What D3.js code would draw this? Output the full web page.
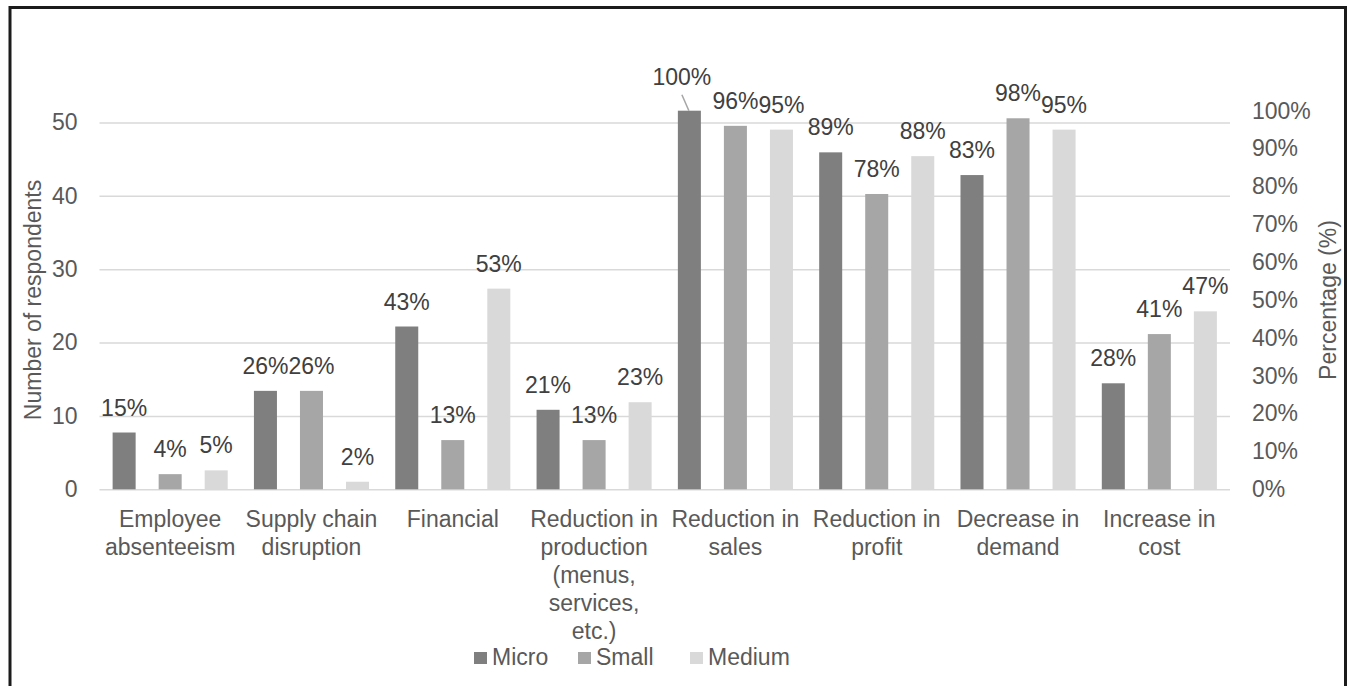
<!DOCTYPE html>
<html>
<head>
<meta charset="utf-8">
<script src="https://cdn.jsdelivr.net/npm/d3@7"></script>
<style>
  body { margin: 0; background: #fff; }
  text { font-family: Arial, "Liberation Sans", sans-serif; }
</style>
</head>
<body>
<svg id="chart" width="1347" height="686"></svg>
<script>
// Impacts reported by business size (share of respondents, %)
const categories = [
  "Employee absenteeism",
  "Supply chain disruption",
  "Financial",
  "Reduction in production (menus, services, etc.)",
  "Reduction in sales",
  "Reduction in profit",
  "Decrease in demand",
  "Increase in cost"
];
const seriesNames = ["Micro", "Small", "Medium"];
const micro  = [15, 26, 43, 21, 100, 89, 83, 28];
const small  = [4, 26, 13, 13, 96, 78, 98, 41];
const medium = [5, 2, 53, 23, 95, 88, 95, 47];

const countTicks = [0, 10, 20, 30, 40, 50];
const pctTicks = [0, 10, 20, 30, 40, 50, 60, 70, 80, 90, 100];
const countAxisMax = 51.6;   // respondents equivalent to 100%

const colors = { Micro: "#7f7f7f", Small: "#a6a6a6", Medium: "#d9d9d9" };
const seriesValues = { Micro: micro, Small: small, Medium: medium };

const svg = d3.select("#chart");
const W = 1347, H = 686;
const plot = { left: 99.5, right: 1230, top: 110.7, bottom: 489.3 };
const FONT = 23;
const textGray = "#595959";

// outer frame
svg.append("rect")
  .attr("x", 10).attr("y", 7.5)
  .attr("width", 1335.5).attr("height", 720)
  .attr("fill", "none").attr("stroke", "#1b1b1b").attr("stroke-width", 3);

const x0 = d3.scaleBand().domain(categories).range([plot.left, plot.right]).padding(0);
const x1 = d3.scaleBand().domain(seriesNames).range([0, x0.bandwidth()])
  .paddingInner(0.5).paddingOuter(0.285);
const yCount = d3.scaleLinear().domain([0, countAxisMax]).range([plot.bottom, plot.top]);
const yPct = d3.scaleLinear().domain([0, 100]).range([plot.bottom, plot.top]);

// gridlines from the respondents axis
const grid = svg.append("g").attr("transform", `translate(${plot.left},0)`)
  .call(d3.axisLeft(yCount).tickValues(countTicks).tickSize(-(plot.right - plot.left)).tickFormat(""));
grid.select(".domain").remove();
grid.selectAll("line").attr("stroke", "#d9d9d9").attr("stroke-width", 1.5);

// left axis labels
const axL = svg.append("g").attr("transform", `translate(${plot.left},0)`)
  .call(d3.axisLeft(yCount).tickValues(countTicks).tickSize(0).tickPadding(22));
axL.select(".domain").remove();
axL.selectAll("text").attr("font-size", FONT).attr("fill", textGray)
  .attr("font-family", "Arial, 'Liberation Sans', sans-serif");

// right axis labels
const axR = svg.append("g").attr("transform", `translate(${plot.right},0)`)
  .call(d3.axisRight(yPct).tickValues(pctTicks).tickSize(0).tickPadding(22).tickFormat(d => d + "%"));
axR.select(".domain").remove();
axR.selectAll("text").attr("font-size", FONT).attr("fill", textGray)
  .attr("font-family", "Arial, 'Liberation Sans', sans-serif");

// axis titles
svg.append("text")
  .attr("transform", `translate(41,${(plot.top + plot.bottom) / 2 + 0}) rotate(-90)`)
  .attr("text-anchor", "middle").attr("font-size", FONT).attr("fill", textGray)
  .text("Number of respondents");
svg.append("text")
  .attr("transform", `translate(1336,${(plot.top + plot.bottom) / 2}) rotate(-90)`)
  .attr("text-anchor", "middle").attr("font-size", FONT).attr("fill", textGray)
  .text("Percentage (%)");

// bars
const groups = svg.append("g").selectAll("g")
  .data(categories).join("g")
  .attr("transform", d => `translate(${x0(d)},0)`);

groups.selectAll("rect")
  .data((c, i) => seriesNames.map(s => ({ s, c, v: seriesValues[s][i] })))
  .join("rect")
  .attr("x", d => x1(d.s))
  .attr("width", x1.bandwidth())
  .attr("y", d => yPct(d.v))
  .attr("height", d => yPct(0) - yPct(d.v))
  .attr("fill", d => colors[d.s]);

// value labels; the one on the tallest bar is lifted with a leader line
const lifted = { s: "Micro", c: "Reduction in sales", dx: -7.5, dy: -8.5 };
groups.selectAll("text.val")
  .data((c, i) => seriesNames.map(s => ({ s, c, v: seriesValues[s][i] })))
  .join("text")
  .attr("class", "val")
  .attr("text-anchor", "middle")
  .attr("font-size", FONT)
  .attr("fill", "#404040")
  .attr("x", d => x1(d.s) + x1.bandwidth() / 2 + (d.s === lifted.s && d.c === lifted.c ? lifted.dx : 0))
  .attr("y", d => yPct(d.v) - 17 + (d.s === lifted.s && d.c === lifted.c ? lifted.dy : 0))
  .text(d => d.v + "%");

{
  const i = categories.indexOf(lifted.c);
  const v = seriesValues[lifted.s][i];
  const cx = x0(lifted.c) + x1(lifted.s) + x1.bandwidth() / 2;
  svg.append("line")
    .attr("x1", cx + lifted.dx).attr("y1", yPct(v) - 16)
    .attr("x2", cx - 0.5).attr("y2", yPct(v))
    .attr("stroke", "#a6a6a6").attr("stroke-width", 1.5);
}

// category labels, wrapped to the band width
const catG = svg.append("g");
categories.forEach(c => {
  const t = catG.append("text")
    .attr("text-anchor", "middle")
    .attr("font-size", FONT)
    .attr("fill", textGray)
    .attr("x", x0(c) + x0.bandwidth() / 2)
    .attr("y", plot.bottom + 38);
  const words = c.split(" ");
  let line = [];
  let lineNo = 0;
  let tspan = t.append("tspan").attr("x", x0(c) + x0.bandwidth() / 2).attr("dy", 0);
  words.forEach(w => {
    line.push(w);
    tspan.text(line.join(" "));
    if (tspan.node().getComputedTextLength() > 136 && line.length > 1) {
      line.pop();
      tspan.text(line.join(" "));
      line = [w];
      lineNo++;
      tspan = t.append("tspan").attr("x", x0(c) + x0.bandwidth() / 2).attr("dy", 28).text(w);
    }
  });
});

// legend
const legendItems = [
  { s: "Micro", x: 474 },
  { s: "Small", x: 578 },
  { s: "Medium", x: 690 }
];
const lg = svg.append("g");
legendItems.forEach(it => {
  lg.append("rect").attr("x", it.x).attr("y", 652).attr("width", 13).attr("height", 12)
    .attr("fill", colors[it.s]);
  lg.append("text").attr("x", it.x + 18).attr("y", 665)
    .attr("font-size", FONT).attr("fill", textGray).text(it.s);
});
</script>
</body>
</html>
